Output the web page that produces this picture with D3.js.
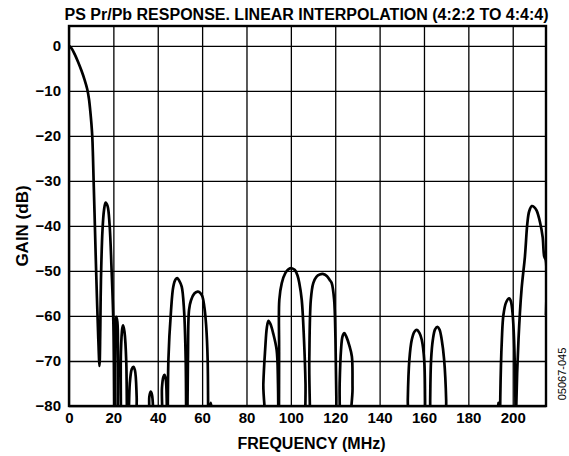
<!DOCTYPE html>
<html>
<head>
<meta charset="utf-8">
<script src="https://cdn.jsdelivr.net/npm/d3@7"></script>
<style>
html,body{margin:0;padding:0;background:#fff;}
svg{display:block;font-family:"Liberation Sans",Arial,Helvetica,sans-serif;}
</style>
</head>
<body>
<svg id="chart" width="569" height="456"></svg>
<script>
const title = "PS Pr/Pb RESPONSE. LINEAR INTERPOLATION (4:2:2 TO 4:4:4)";
const xLabel = "FREQUENCY (MHz)";
const yLabel = "GAIN (dB)";
const figId = "05067-045";
const xTicks = [0,20,40,60,80,100,120,140,160,180,200];
const yTicks = [0,-10,-20,-30,-40,-50,-60,-70,-80];

// Frequency (MHz) and gain (dB); values below -80 fall off the plot
const freq = [
 0,1.2,2.6,4.1,5.6,7.0,8.2,9.0,9.6,10.1,10.5,10.8,11.1,11.5,12.0,12.6,13.2,13.75,
 14.1,14.4,15.1,15.8,16.5,17.4,18.3,19.2,20.0,20.4,
 20.5,20.9,21.3,21.8,22.1,22.5,
 22.8,23.4,24.0,24.4,25.0,25.8,26.4,
 27.4,28.3,29.0,29.7,30.5,31.0,
 35.6,36.2,36.8,37.4,38.0,38.3,
 41.4,41.9,42.5,43.0,43.6,44.1,44.4,
 44.8,46.0,47.0,48.0,48.8,49.6,50.8,51.85,52.6,53.0,
 53.6,54.1,55.0,56.5,58.0,58.75,60.0,61.0,61.8,62.5,62.9,
 63.5,63.9,64.3,64.6,
 86.8,87.6,88.4,89.2,89.9,90.8,92.0,93.6,94.2,94.5,
 94.7,94.8,95.9,97.5,99.0,100.4,101.8,103.0,103.8,104.9,105.9,106.6,107.0,
 108.0,108.3,109.0,110.1,111.5,113.0,114.7,116.3,117.5,118.4,119.5,120.1,120.5,120.7,
 121.5,122.0,122.6,123.3,124.1,125.0,126.3,127.5,127.8,128.1,
 152.6,152.7,153.4,154.5,155.7,156.8,158.0,159.0,160.1,160.5,160.7,
 162.7,162.8,163.2,164.0,165.0,166.1,167.0,168.0,169.1,170.0,170.2,
 193.1,193.6,194.0,194.2,
 194.4,195.1,195.8,197.0,198.4,199.2,200.0,200.6,201.2,201.35,
 201.6,202.6,204.0,205.5,206.6,207.4,208.6,209.6,210.8,212.4,213.5,214.2,214.9,215.0
];
const gain = [
 0,-0.6,-1.9,-3.6,-5.5,-7.5,-9.6,-11.8,-14.5,-17.3,-20.2,-24.5,-30,-37,-46,-56,-65,-71.1,
 -63.1,-52,-40.9,-36.4,-34.8,-35.6,-39.8,-49.8,-61.6,-85,
 -100,-65.3,-60.2,-61.3,-69.8,-100,
 -100,-68,-62.8,-62.1,-63.5,-70,-100,
 -75,-71.8,-71.3,-72,-78,-100,
 -100,-78,-76.8,-77.5,-82,-100,
 -100,-76,-73.6,-73.1,-74,-80,-100,
 -69.8,-58.7,-53.5,-51.9,-51.6,-52.1,-53.5,-58.7,-69.8,-100,
 -70,-58.7,-56.5,-55,-54.6,-54.7,-55.5,-58,-62,-69.8,-100,
 -80.8,-79.3,-80.8,-100,
 -100,-75,-67.6,-62.5,-61.1,-61.8,-63.8,-67.6,-75,-100,
 -68,-56.4,-52.7,-50.5,-49.6,-49.4,-49.8,-51,-52.7,-56.4,-65,-75,-100,
 -100,-70,-56.4,-52.7,-51.3,-50.8,-50.7,-51.2,-52,-52.7,-56.4,-65,-78,-100,
 -100,-75,-67.6,-64.5,-63.8,-64.6,-66.5,-69,-76,-100,
 -100,-78.7,-69.8,-65.3,-63.5,-63.1,-63.8,-65.3,-69.8,-78.7,-100,
 -100,-78.7,-69.8,-65.3,-63,-62.4,-63,-65.3,-69.8,-78.7,-100,
 -80.8,-79.3,-80.8,-100,
 -78,-65.3,-59.8,-57,-56.1,-56.8,-59.8,-65.3,-78,-100,
 -80,-65.3,-54,-46.8,-39.4,-36.8,-35.6,-35.8,-36.6,-39.4,-42.5,-46.8,-47.6,-59.8
];

const svg = d3.select("#chart");
const x = d3.scaleLinear().domain([0,215]).range([69,546]);
const y = d3.scaleLinear().domain([-80,4.4]).range([406,26]);
const [x0,x1] = x.range(), [y0,y1] = y.range();

// gridlines
const gx = svg.append("g").attr("transform",`translate(0,${y0})`)
  .call(d3.axisBottom(x).tickValues(xTicks).tickSize(-(y0-y1)).tickFormat(d=>d).tickPadding(6));
gx.select(".domain").remove();
gx.selectAll(".tick line").attr("stroke","#000").attr("stroke-width",1.3);
gx.selectAll(".tick text").attr("font-size",15).attr("font-weight","bold").attr("fill","#000")
  .attr("font-family",'"Liberation Sans",Arial,sans-serif');

const gy = svg.append("g").attr("transform",`translate(${x0},0)`)
  .call(d3.axisLeft(y).tickValues(yTicks).tickSize(-(x1-x0)).tickFormat(d=>d<0?"\u2212"+Math.abs(d):d).tickPadding(8));
gy.select(".domain").remove();
gy.selectAll(".tick line").attr("stroke","#000").attr("stroke-width",1.3);
gy.selectAll(".tick text").attr("font-size",15).attr("font-weight","bold").attr("fill","#000")
  .attr("font-family",'"Liberation Sans",Arial,sans-serif');

// curve
svg.append("clipPath").attr("id","clip").append("rect")
  .attr("x",x0).attr("y",y1).attr("width",x1-x0).attr("height",y0-y1);
const pts = freq.map((f,i)=>[f,gain[i]]);
svg.append("path").datum(pts)
  .attr("clip-path","url(#clip)")
  .attr("fill","none").attr("stroke","#000").attr("stroke-width",2.7)
  .attr("stroke-linejoin","round")
  .attr("d", d3.line().x(d=>x(d[0])).y(d=>y(d[1])).curve(d3.curveCatmullRom.alpha(0.5)));

// frame
svg.append("rect").attr("x",x0).attr("y",y1).attr("width",x1-x0).attr("height",y0-y1)
  .attr("fill","none").attr("stroke","#000").attr("stroke-width",2.4);

// texts
svg.append("text").attr("x",306.5).attr("y",20).attr("text-anchor","middle")
  .attr("font-size",16).attr("font-weight","bold").text(title);
svg.append("text").attr("x",311.5).attr("y",449).attr("text-anchor","middle")
  .attr("font-size",16).attr("font-weight","bold").text(xLabel);
svg.append("text").attr("transform","translate(28,226) rotate(-90)").attr("text-anchor","middle")
  .attr("font-size",17).attr("font-weight","bold").text(yLabel);
svg.append("text").attr("transform","translate(566,374) rotate(-90)").attr("text-anchor","middle")
  .attr("font-size",11).text(figId);
</script>
</body>
</html>
